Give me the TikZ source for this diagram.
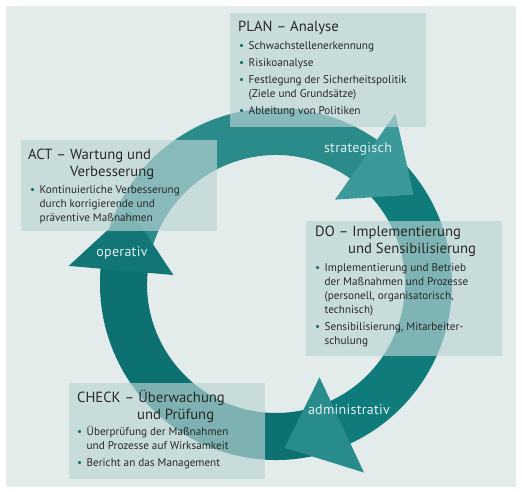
\documentclass[tikz,border=0pt]{standalone}
\usepackage{fontspec}
\setmainfont{PT Sans}
\newfontfamily\pdcalblfam[LetterSpace=2]{PT Sans}
\usetikzlibrary{calc}
\definecolor{panelc}{RGB}{227,235,235}
\definecolor{boxc}{RGB}{188,212,213}
\definecolor{ringA}{RGB}{43,139,139}
\definecolor{headA}{RGB}{60,153,153}
\definecolor{ringB}{RGB}{15,123,123}
\definecolor{headB}{RGB}{40,140,140}
\definecolor{ringC}{RGB}{13,113,113}
\definecolor{headC}{RGB}{18,118,118}
\definecolor{lblc}{RGB}{226,240,240}
\definecolor{txtc}{RGB}{40,40,40}
\definecolor{bulc}{RGB}{20,112,112}
\newcommand\pdcattl{\fontsize{14.7}{17}\selectfont}
\newcommand\pdcalst{\fontsize{11.2}{14}\selectfont}
\newcommand\pdcabul{\makebox[9.5pt][l]{\textcolor{bulc}{\textbullet}}}
\tikzset{
  boxstyle/.style={fill=boxc, fill opacity=0.65, draw=none, inner sep=0pt, anchor=south west},
  txt/.style={anchor=base west, inner sep=0pt, text=txtc},
  lbl/.style={anchor=base, inner sep=0pt, text=lblc, font=\pdcalblfam\fontsize{14}{16}\selectfont},
}
\begin{document}
\begin{tikzpicture}[x=1pt,y=1pt]
\useasboundingbox (0,0) rectangle (522,492);
\fill[white] (0,0) rectangle (522,492);
\fill[panelc] (6,5) rectangle (516,486);
% ring
\begin{scope}[shift={(276,208)}]
  \fill[ringA] (179:176) arc[start angle=179, end angle=54, radius=176] -- (54:129) arc[start angle=54, end angle=179, radius=129] -- cycle;
  \fill[ringB] (55:176) arc[start angle=55, end angle=-66, radius=176] -- (-66:129) arc[start angle=-66, end angle=55, radius=129] -- cycle;
  \fill[ringC] (-65:176) arc[start angle=-65, end angle=-186, radius=176] -- (-186:129) arc[start angle=-186, end angle=-65, radius=129] -- cycle;
  \coordinate (hAi) at (55:103);  \coordinate (hAo) at (55:208);  \coordinate (hAt) at (33:164);
  \coordinate (hBi) at (-65:103); \coordinate (hBo) at (-65:208); \coordinate (hBt) at (-87:164);
  \coordinate (hCi) at (175:103); \coordinate (hCo) at (175:208); \coordinate (hCt) at (153:164);
  \fill[headA] (hAi) -- (hAo) -- (hAt) -- cycle;
  \fill[headB] (hBi) -- (hBo) -- (hBt) -- cycle;
  \fill[headC] (hCi) -- (hCo) -- (hCt) -- cycle;
\end{scope}
% ring labels
\node[lbl] (lstrat) at (358,339) {strategisch};
\node[lbl] (lop) at (122,235) {operativ};
\node[lbl] (ladm) at (349,77) {administrativ};
% boxes
\node[boxstyle, minimum width=196pt, minimum height=114pt] (planbox) at (230,365) {};
\node[boxstyle, minimum width=196pt, minimum height=91pt] (actbox) at (21,261) {};
\node[boxstyle, minimum width=196pt, minimum height=135pt] (dobox) at (306,136) {};
\node[boxstyle, minimum width=196pt, minimum height=96pt] (checkbox) at (69,13) {};
% PLAN
\node[txt, font=\pdcattl] (plantitle) at (238,460) {PLAN – Analyse};
\node[txt, font=\pdcalst] (planlist) at (239,442) {\begin{tabular}[t]{@{}l@{}l@{}}
\pdcabul & Schwachstellenerkennung\\[2.5pt]
\pdcabul & Risikoanalyse\\[3pt]
\pdcabul & Festlegung der Sicherheitspolitik\\
 & (Ziele und Grundsätze)\\[3pt]
\pdcabul & Ableitung von Politiken
\end{tabular}};
% ACT
\node[txt, font=\pdcattl] (acttitle) at (28,332) {\begin{tabular}[t]{@{}l@{}}ACT – Wartung und\\\hspace*{42pt}Verbesserung\end{tabular}};
\node[txt, font=\pdcalst] (actlist) at (30,298) {\begin{tabular}[t]{@{}l@{}l@{}}
\pdcabul & Kontinuierliche Verbesserung\\
 & durch korrigierende und\\
 & präventive Maßnahmen
\end{tabular}};
% DO
\node[txt, font=\pdcattl] (dotitle) at (315,255) {\begin{tabular}[t]{@{}l@{}}DO – Implementierung\\\hspace*{33pt}und Sensibilisierung\end{tabular}};
\node[txt, font=\pdcalst] (dolist) at (315,220) {\begin{tabular}[t]{@{}l@{}l@{}}
\pdcabul & Implementierung und Betrieb\\
 & der Maßnahmen und Prozesse\\
 & (personell, organisatorisch,\\
 & technisch)\\[3pt]
\pdcabul & Sensibilisierung, Mitarbeiter-\\
 & schulung
\end{tabular}};
% CHECK
\node[txt, font=\pdcattl] (checktitle) at (77,89) {\begin{tabular}[t]{@{}l@{}}CHECK – Überwachung\\\hspace*{60pt}und Prüfung\end{tabular}};
\node[txt, font=\pdcalst] (checklist) at (77,56) {\begin{tabular}[t]{@{}l@{}l@{}}
\pdcabul & Überprüfung der Maßnahmen\\
 & und Prozesse auf Wirksamkeit\\[3pt]
\pdcabul & Bericht an das Management
\end{tabular}};
\end{tikzpicture}
\end{document}
